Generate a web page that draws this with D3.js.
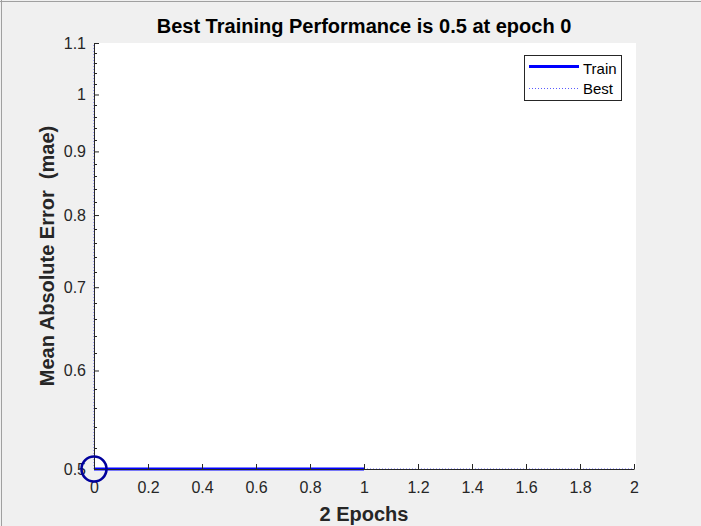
<!DOCTYPE html>
<html>
<head>
<meta charset="utf-8">
<script src="https://cdn.jsdelivr.net/npm/d3@7"></script>
<style>
  html, body { margin: 0; padding: 0; background: #f0f0f0; }
  svg { display: block; font-family: "Liberation Sans", Arial, Helvetica, sans-serif; }
</style>
</head>
<body>
<svg id="chart" width="701" height="526"></svg>
<script>
// ---- data ----
const epochs = [0, 1];
const trainPerf = [0.5, 0.5];
const bestEpoch = [0];
const bestPerf = [0.5];
const xTicks = [0, 0.2, 0.4, 0.6, 0.8, 1, 1.2, 1.4, 1.6, 1.8, 2];
const yTicks = [0.5, 0.6, 0.7, 0.8, 0.9, 1, 1.1];
const yMinorTicks = [0.52,0.54,0.56,0.58,0.62,0.64,0.66,0.68,0.72,0.74,0.76,0.78,0.82,0.84,0.86,0.88,0.92,0.94,0.96,0.98,1.02,1.04,1.06,1.08];
const titleText = "Best Training Performance is 0.5 at epoch 0";
const xLabel = "2 Epochs";
const yLabel = "Mean Absolute Error  (mae)";
const legendNames = ["Train", "Best"];

// ---- layout ----
const svg = d3.select("#chart");
const W = 701, H = 526;
const L = 94, R = 634, T = 43, B = 469;

svg.append("rect").attr("x", 0).attr("y", 0).attr("width", W).attr("height", H).attr("fill", "#f0f0f0");
// window frame lines
svg.append("line").attr("x1", 0).attr("x2", W).attr("y1", 1.5).attr("y2", 1.5).attr("stroke", "#a0a0a0").attr("stroke-width", 1);
svg.append("line").attr("x1", 1.5).attr("x2", 1.5).attr("y1", 0).attr("y2", H).attr("stroke", "#a0a0a0").attr("stroke-width", 1);

const x = d3.scaleLinear().domain([0, 2]).range([L, R]);
const y = d3.scaleLog().domain([0.5, 1.1]).range([B, T]);

// plot area
svg.append("rect").attr("x", L).attr("y", T).attr("width", R - L + 2).attr("height", B - T).attr("fill", "#ffffff");

// best lines (dotted)
const bestColor = "#5a5aff";
svg.append("line")
  .attr("x1", x(0)).attr("x2", x(2))
  .attr("y1", y(bestPerf[0])).attr("y2", y(bestPerf[0]))
  .attr("stroke", bestColor).attr("stroke-width", 1).attr("stroke-dasharray", "1,2");
svg.append("line")
  .attr("x1", x(bestEpoch[0])).attr("x2", x(bestEpoch[0]))
  .attr("y1", y(0.5)).attr("y2", y(1.1))
  .attr("stroke", bestColor).attr("stroke-width", 1).attr("stroke-dasharray", "1,2");

// train line
const line = d3.line().x((d, i) => x(epochs[i])).y(d => y(d));
svg.append("path").datum(trainPerf)
  .attr("d", line).attr("fill", "none").attr("stroke", "#0000ff").attr("stroke-width", 3);

// axes
const tickColor = "#262626";
const tickFont = 16;
const xAxis = d3.axisBottom(x).tickValues(xTicks).tickSizeInner(-5).tickSizeOuter(0).tickPadding(13)
  .tickFormat(d => d3.format("~g")(d));
const gx = svg.append("g").attr("transform", `translate(0,${B})`).call(xAxis);
gx.select(".domain").attr("stroke", tickColor);
gx.selectAll(".tick line").attr("stroke", tickColor);
gx.selectAll(".tick text").attr("fill", tickColor).attr("font-size", tickFont).attr("font-family", "Liberation Sans, Arial, sans-serif");

const yAxis = d3.axisLeft(y).tickValues(yTicks).tickSizeInner(-5).tickSizeOuter(0).tickPadding(8)
  .tickFormat(d => d3.format("~g")(d));
const gy = svg.append("g").attr("transform", `translate(${L},0)`).call(yAxis);
gy.select(".domain").attr("stroke", tickColor);
gy.selectAll(".tick line").attr("stroke", tickColor);
gy.selectAll(".tick text").attr("fill", tickColor).attr("font-size", tickFont).attr("font-family", "Liberation Sans, Arial, sans-serif");

// minor y ticks
svg.append("g").selectAll("line").data(yMinorTicks).join("line")
  .attr("x1", L).attr("x2", L + 3)
  .attr("y1", d => Math.round(y(d)) + 0.5).attr("y2", d => Math.round(y(d)) + 0.5)
  .attr("stroke", tickColor).attr("stroke-width", 1);

// best marker circle
svg.append("circle")
  .attr("cx", x(bestEpoch[0])).attr("cy", y(bestPerf[0])).attr("r", 12.5)
  .attr("fill", "none").attr("stroke", "#00009c").attr("stroke-width", 2.6);

// title
svg.append("text").attr("x", (L + R) / 2).attr("y", 33).attr("text-anchor", "middle")
  .attr("font-size", 20).attr("font-weight", "bold").attr("fill", "#000").text(titleText);

// x label
svg.append("text").attr("x", (L + R) / 2).attr("y", 521).attr("text-anchor", "middle")
  .attr("font-size", 20).attr("font-weight", "bold").attr("fill", tickColor).text(xLabel);

// y label
svg.append("text").attr("transform", `translate(54,${(T + B) / 2}) rotate(-90)`)
  .attr("text-anchor", "middle").style("white-space", "pre")
  .attr("font-size", 20).attr("font-weight", "bold").attr("fill", tickColor).text(yLabel);

// legend
const lg = svg.append("g");
lg.append("rect").attr("x", 524.5).attr("y", 55.5).attr("width", 97).attr("height", 45)
  .attr("fill", "#ffffff").attr("stroke", "#262626").attr("stroke-width", 1);
lg.append("line").attr("x1", 529).attr("x2", 579).attr("y1", 66.5).attr("y2", 66.5)
  .attr("stroke", "#0000ff").attr("stroke-width", 3);
lg.append("line").attr("x1", 529).attr("x2", 579).attr("y1", 88.5).attr("y2", 88.5)
  .attr("stroke", bestColor).attr("stroke-width", 1).attr("stroke-dasharray", "1,2");
lg.selectAll("text.lt").data(legendNames).join("text")
  .attr("x", 583).attr("y", (d, i) => 74 + i * 20)
  .attr("font-size", 15).attr("fill", "#000").text(d => d);
</script>
</body>
</html>
